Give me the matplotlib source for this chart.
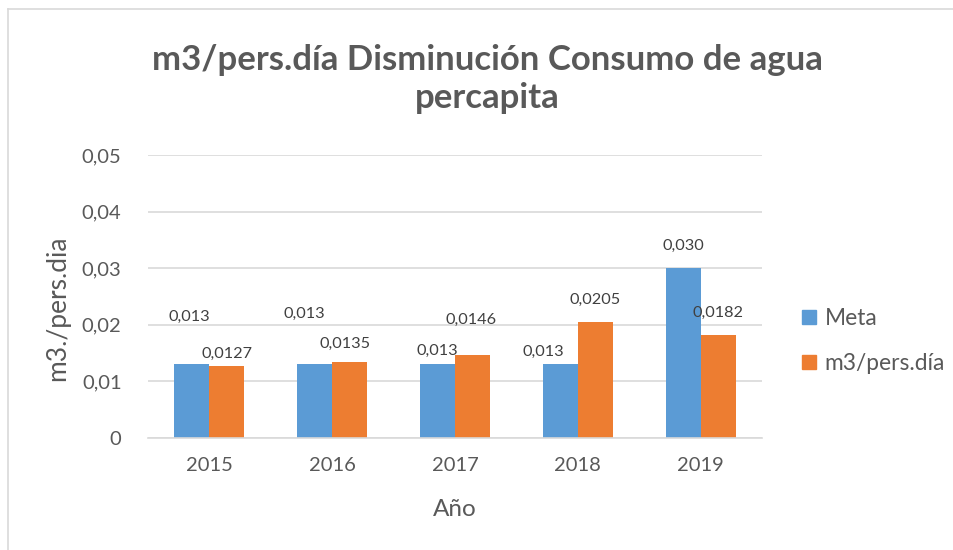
import matplotlib.pyplot as plt
from matplotlib.lines import Line2D
import numpy as np

years = ['2015', '2016', '2017', '2018', '2019']
meta = [0.013, 0.013, 0.013, 0.013, 0.030]
consumo = [0.0127, 0.0135, 0.0146, 0.0205, 0.0182]
meta_labels = ['0,013', '0,013', '0,013', '0,013', '0,030']
consumo_labels = ['0,0127', '0,0135', '0,0146', '0,0205', '0,0182']
y_ticks = [0, 0.01, 0.02, 0.03, 0.04, 0.05]
y_ticklabels = ['0', '0,01', '0,02', '0,03', '0,04', '0,05']

# label offsets in pixels (the labels were dragged around by hand in the original)
meta_off = [(-3, 48), (-10, 51), (0, 14), (-17, 13), (0, 22)]
consumo_off = [(0, 12), (-5, 18), (-1, 35), (0, 22), (0, 22)]

blue = '#5B9BD5'
orange = '#ED7D31'
grey = '#595959'
gridc = '#D9D9D9'

plt.rcParams['font.family'] = ['Lato', 'DejaVu Sans']

fig = plt.figure(figsize=(9.54, 5.5), dpi=100)
ax = fig.add_axes([148/954, 1 - 438/550, 614/954, 283/550])

x = np.arange(len(years))
w = 0.285
ax.bar(x - w/2, meta, w, color=blue, label='Meta', zorder=2)
ax.bar(x + w/2, consumo, w, color=orange, label='m3/pers.día', zorder=2)

for i in range(len(years)):
    ax.annotate(meta_labels[i], (x[i] - w/2, meta[i]), xytext=meta_off[i],
                textcoords='offset pixels', ha='center', va='center',
                fontsize=11.7, color='#404040')
    ax.annotate(consumo_labels[i], (x[i] + w/2, consumo[i]), xytext=consumo_off[i],
                textcoords='offset pixels', ha='center', va='center',
                fontsize=11.7, color='#404040')

ax.set_xlim(-0.5, len(years) - 0.5)
ax.set_ylim(0, 0.05)
ax.set_yticks(y_ticks)
ax.set_yticklabels(y_ticklabels)
ax.set_xticks(x)
ax.set_xticklabels(years)
ax.tick_params(length=0, labelsize=14.5, colors=grey)
ax.tick_params(axis='y', pad=19)
ax.tick_params(axis='x', pad=14)
ax.yaxis.grid(True, color=gridc, linewidth=1.2, zorder=0)
for s in ['top', 'right', 'left']:
    ax.spines[s].set_visible(False)
ax.spines['bottom'].set_color(gridc)
ax.spines['bottom'].set_linewidth(1.2)

ax.set_xlabel('Año', fontsize=17.5, color=grey)
ax.set_ylabel('m3./pers.dia', fontsize=19, color=grey)
ax.xaxis.set_label_coords(0.5, -(509 - 438)/283, transform=ax.transAxes)
ax.yaxis.set_label_coords(-(148 - 58)/614, 0.46, transform=ax.transAxes)
ax.xaxis.label.set_va('center')
ax.yaxis.label.set_va('center')

fig.text(487/954, 1 - 79/550, 'm3/pers.día Disminución Consumo de agua\npercapita',
         ha='center', va='center', fontsize=25, fontweight='bold', color=grey,
         linespacing=1.22)

handles = [Line2D([], [], marker='s', linestyle='none', markersize=10, color=blue),
           Line2D([], [], marker='s', linestyle='none', markersize=10, color=orange)]
fig.legend(handles, ['Meta', 'm3/pers.día'], loc='center left',
           bbox_to_anchor=(795/954, 1 - 341/550), frameon=False, fontsize=16.4,
           labelcolor=grey, handletextpad=0.1, labelspacing=1.05, handlelength=1.2,
           borderaxespad=0, borderpad=0)

# chart frame
fig.add_artist(Line2D([8.5/954, 8.5/954], [0, 1 - 8.5/550], color=gridc, linewidth=1.2))
fig.add_artist(Line2D([8.5/954, 1], [1 - 8.5/550, 1 - 8.5/550], color=gridc, linewidth=1.2))

plt.savefig('out.png', dpi=100)
